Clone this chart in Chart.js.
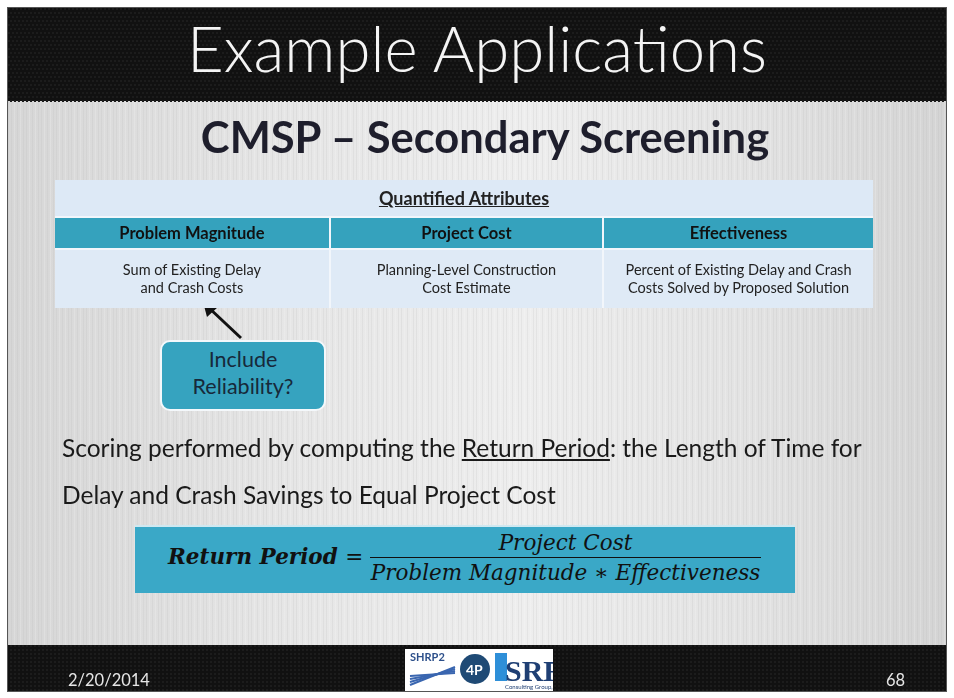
<!DOCTYPE html>
<html>
<head>
    <title>CMSP - Secondary Screening</title>
    <script src="https://cdn.jsdelivr.net/npm/chart.js"></script>
    <style>
        html, body { margin: 0; padding: 0; background: #fff; }
        #slide { position: relative; width: 954px; height: 698px; overflow: hidden; font-family: Lato, "Open Sans", sans-serif; }
        #bg { position: absolute; left: 0; top: 0; }
        .t { position: absolute; white-space: nowrap; }
        #title { left: 8px; width: 938px; top: 10px; text-align: center; color: #f4f4f4; font-size: 63.5px; line-height: 76px; font-weight: 300; }
        #subtitle { left: 16px; width: 938px; top: 110px; text-align: center; color: #1e1e2c; font-size: 43.5px; line-height: 52px; font-weight: bold; }
        #tbl { position: absolute; left: 55px; top: 180px; width: 818px; border-collapse: collapse; font-size: 14.5px; color: #222; }
        #tbl td { text-align: center; border-left: 2px solid #f2f6fb; padding: 0; }
        #tbl td:first-child { border-left: none; }
        #tbl .cap { background: #dde9f6; height: 36px; font-weight: bold; font-size: 18px; text-decoration: underline; }
        #tbl .hd td { background: #35a2bd; height: 30px; font-weight: bold; font-size: 16.5px; color: #111; border-top: 2px solid #f2f6fb; }
        #tbl .bd td { background: #dfeaf6; height: 58px; line-height: 18px; border-top: 2px solid #f2f6fb; }
        #callout { position: absolute; left: 160px; top: 340px; width: 162px; height: 63px; background: #36a3bf; border: 2px solid #f4f8fb; border-radius: 10px; color: #17293a; font-size: 21.5px; line-height: 27px; text-align: center; padding-top: 4px; }
        .body { left: 62px; color: #1a1a1a; font-size: 24.5px; }
        #formula { position: absolute; left: 135px; top: 525px; width: 660px; height: 66px; background: #3aa8c7; border-top: 2px solid #d0e8f0; font-family: "DejaVu Serif", serif; font-style: italic; color: #111; }
        #lhs { position: absolute; left: 33px; top: 17px; font-size: 21.5px; font-weight: bold; }
        #lhs span { font-weight: normal; font-style: normal; }
        #frac { position: absolute; left: 235px; top: 2px; width: 391px; text-align: center; font-size: 21.5px; line-height: 27px; }
        #frac .num { border-bottom: 1.5px solid #111; padding-bottom: 1px; }
        #frac .den { padding-top: 1px; }
        .foot { color: #e6e6e6; font-size: 16.5px; top: 670px; }
        #logo { position: absolute; left: 405px; top: 649px; width: 148px; height: 42px; background: #fff; }
    </style>
</head>
<body>
<div id="slide">
    <canvas id="bg" width="954" height="698"></canvas>
    <div class="t" id="title"></div>
    <div class="t" id="subtitle"></div>
    <table id="tbl"></table>
    <div id="callout"></div>
    <div class="t body" id="line1" style="top:433px"></div>
    <div class="t body" id="line2" style="top:480px"></div>
    <div id="formula">
        <div class="t" id="lhs"></div>
        <div id="frac"><div class="num"></div><div class="den"></div></div>
    </div>
    <div id="logo"><canvas id="logoCanvas" width="148" height="42"></canvas></div>
    <div class="t foot" id="date" style="left:68px"></div>
    <div class="t foot" id="page" style="left:886px"></div>
</div>

<script>
    // slide text
    const title = 'Example Applications';
    const subtitle = 'CMSP \u2013 Secondary Screening';
    const tableCaption = 'Quantified Attributes';
    const attributes = ['Problem Magnitude', 'Project Cost', 'Effectiveness'];
    const descriptions = [
        'Sum of Existing Delay<br>and Crash Costs',
        'Planning-Level Construction<br>Cost Estimate',
        'Percent of Existing Delay and Crash<br>Costs Solved by Proposed Solution'
    ];
    const calloutText = 'Include<br>Reliability?';
    const bodyLines = [
        'Scoring performed by computing the <u>Return Period</u>: the Length of Time for',
        'Delay and Crash Savings to Equal Project Cost'
    ];
    const formulaLhs = 'Return Period';
    const formulaNum = 'Project Cost';
    const formulaDen = 'Problem Magnitude \u2217 Effectiveness';
    const dateText = '2/20/2014';
    const pageNum = '68';
    // column widths of the attribute table (percent)
    const colWidths = [33.6, 33.4, 33];

    document.getElementById('title').textContent = title;
    document.getElementById('subtitle').textContent = subtitle;
    document.getElementById('callout').innerHTML = calloutText;
    document.getElementById('line1').innerHTML = bodyLines[0];
    document.getElementById('line2').innerHTML = bodyLines[1];
    document.getElementById('lhs').innerHTML = formulaLhs + ' <span>=</span>';
    document.querySelector('#frac .num').textContent = formulaNum;
    document.querySelector('#frac .den').textContent = formulaDen;
    document.getElementById('date').textContent = dateText;
    document.getElementById('page').textContent = pageNum;

    const tbl = document.getElementById('tbl');
    tbl.innerHTML =
        '<tr><td class="cap" colspan="3">' + tableCaption + '</td></tr>' +
        '<tr class="hd">' + attributes.map((a, i) => '<td style="width:' + colWidths[i] + '%">' + a + '</td>').join('') + '</tr>' +
        '<tr class="bd">' + descriptions.map(d => '<td>' + d + '</td>').join('') + '</tr>';

    // slide background + arrow drawn by a Chart.js plugin on an empty chart
    const slidePlugin = {
        id: 'slideBackground',
        beforeDraw(chart) {
            const c = chart.ctx;
            const W = chart.width, H = chart.height;
            c.save();
            c.fillStyle = '#ffffff';
            c.fillRect(0, 0, W, H);
            // body: brushed grey
            const g = c.createLinearGradient(8, 0, 946, 0);
            g.addColorStop(0, '#d6d6d6');
            g.addColorStop(0.3, '#e6e6e6');
            g.addColorStop(0.55, '#eeeeee');
            g.addColorStop(0.8, '#e2e2e2');
            g.addColorStop(1, '#d4d4d4');
            c.fillStyle = g;
            c.fillRect(8, 100, 938, 546);
            c.globalAlpha = 0.18;
            for (let x = 8; x < 946; x += 3) {
                c.fillStyle = (x * 7919) % 5 < 2 ? '#ffffff' : '#b8b8b8';
                c.fillRect(x, 100, 1, 546);
            }
            c.globalAlpha = 1;
            // header and footer: dark carbon
            c.fillStyle = '#111111';
            c.fillRect(8, 8, 938, 93);
            c.fillRect(8, 645, 938, 46);
            c.fillStyle = '#1c1c1c';
            for (let y = 8; y < 101; y += 4) for (let x = 8 + (y % 8 ? 2 : 0); x < 946; x += 4) c.fillRect(x, y, 2, 2);
            for (let y = 645; y < 691; y += 4) for (let x = 8 + (y % 8 ? 2 : 0); x < 946; x += 4) c.fillRect(x, y, 2, 2);
            c.strokeStyle = '#555';
            c.lineWidth = 1;
            c.strokeRect(7.5, 7.5, 939, 684);
            // callout arrow
            c.strokeStyle = '#111';
            c.lineWidth = 3;
            c.beginPath();
            c.moveTo(241, 338);
            c.lineTo(208, 307);
            c.stroke();
            c.fillStyle = '#111';
            c.beginPath();
            c.moveTo(203, 302);
            c.lineTo(218, 307);
            c.lineTo(207, 317);
            c.closePath();
            c.fill();
            c.restore();
        }
    };

    new Chart(document.getElementById('bg'), {
        type: 'scatter',
        data: { datasets: [] },
        options: {
            responsive: false,
            animation: false,
            events: [],
            plugins: { legend: { display: false }, tooltip: { enabled: false } },
            scales: { x: { display: false }, y: { display: false } }
        },
        plugins: [slidePlugin]
    });

    // small footer logo block
    const lc = document.getElementById('logoCanvas').getContext('2d');
    lc.fillStyle = '#2c4f8a';
    lc.font = 'bold 11px Lato, sans-serif';
    lc.fillText('SHRP2', 5, 12);
    lc.strokeStyle = '#3a66b0';
    lc.lineWidth = 2;
    for (let i = 0; i < 4; i++) { lc.beginPath(); lc.moveTo(5, 36 - i * 3); lc.lineTo(50, 18 + i * 2); lc.stroke(); }
    lc.fillStyle = '#1f4a75';
    lc.beginPath(); lc.arc(70, 20, 15, 0, Math.PI * 2); lc.fill();
    lc.fillStyle = '#fff';
    lc.font = 'bold 14px Lato, sans-serif';
    lc.fillText('4P', 61, 26);
    lc.fillStyle = '#2e8fd8';
    lc.fillRect(90, 4, 12, 28);
    lc.fillStyle = '#1f3f73';
    lc.font = 'bold 30px "Liberation Serif", serif';
    lc.fillText('SRF', 100, 32);
    lc.font = '6px Lato, sans-serif';
    lc.fillText('Consulting Group, Inc.', 100, 40);
</script>
</body>
</html>
